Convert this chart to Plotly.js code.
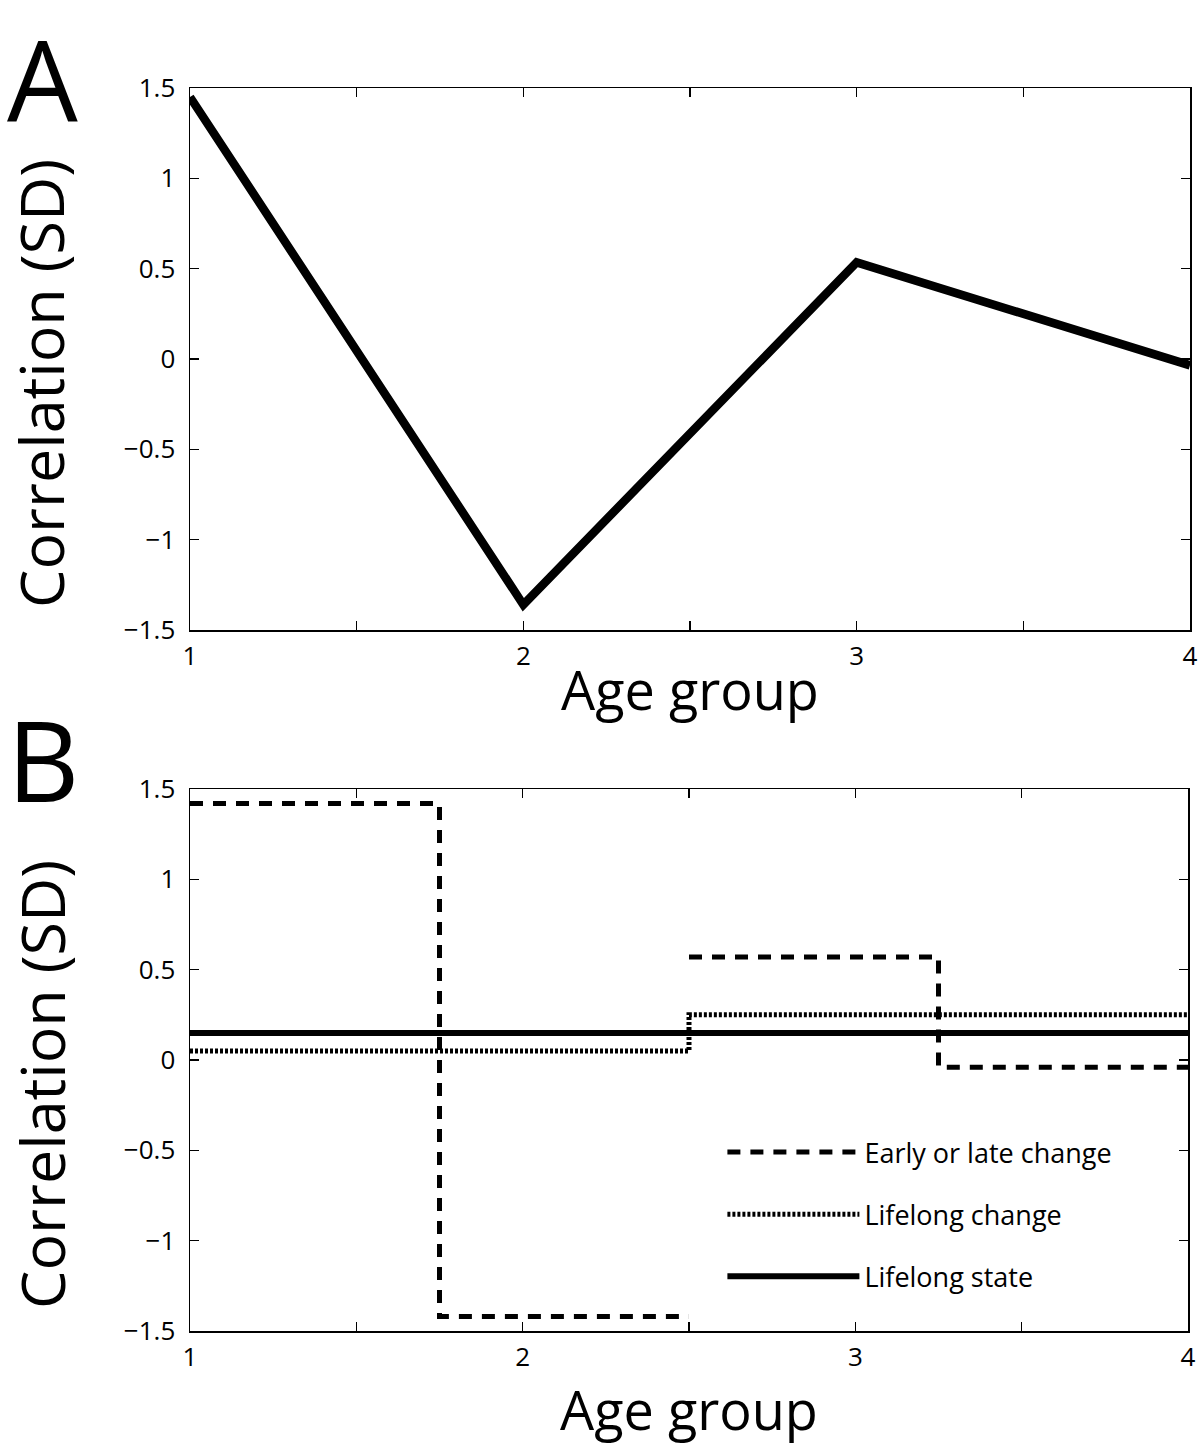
<!DOCTYPE html>
<html>
<head>
<meta charset="utf-8">
<script src="https://cdn.plot.ly/plotly-3.0.1.min.js"></script>
<style>html,body{margin:0;padding:0;background:#fff;}#chart{width:1200px;height:1446px;}</style>
</head>
<body>
<div id="chart"></div>
<script>
// ---- Data ----
const ageGroups = [1, 2, 3, 4];
const correlationA = [1.45, -1.36, 0.535, -0.035];

const earlyLateX = [1, 1.75, 1.75, 2.5, null, 2.5, 3.25, 3.25, 4];
const earlyLateY = [1.42, 1.42, -1.42, -1.42, null, 0.57, 0.57, -0.04, -0.04];

const lifelongChangeX = [1, 2.5, 2.5, 4];
const lifelongChangeY = [0.05, 0.05, 0.25, 0.25];

const lifelongStateX = [1, 4];
const lifelongStateY = [0.15, 0.15];

const xTickVals = [1, 1.5, 2, 2.5, 3, 3.5, 4];
const xTickText = ['1', '', '2', '', '3', '', '4'];
const yTickVals = [-1.5, -1, -0.5, 0, 0.5, 1, 1.5];
const yTickText = ['\u22121.5', '\u22121', '\u22120.5', '0', '0.5', '1', '1.5'];

const seriesNames = ['Early or late change', 'Lifelong change', 'Lifelong state'];
const xTitle = 'Age group';
const yTitle = 'Correlation (SD)';
const panelLabels = ['A', 'B'];

// ---- Styling ----
const FONT = '"Open Sans", "Noto Sans", "DejaVu Sans", sans-serif';

function xAxis(anchor, standoff) {
  return {
    domain: [190/1200, 1190/1200],
    anchor: anchor,
    range: [1, 4],
    tickvals: xTickVals,
    ticktext: xTickText,
    ticks: 'inside',
    ticklen: 9,
    tickwidth: 1.5,
    tickcolor: '#000',
    showline: true,
    linecolor: '#000',
    linewidth: 1.5,
    mirror: 'ticks',
    showgrid: false,
    zeroline: false,
    ticklabelstandoff: 2,
    tickfont: {family: FONT, size: 26, color: '#000'},
    title: {text: xTitle, font: {family: FONT, size: 54, color: '#000'}, standoff: standoff}
  };
}
function yAxis(anchor, domain) {
  return {
    domain: domain,
    anchor: anchor,
    range: [-1.5, 1.5],
    tickvals: yTickVals,
    ticktext: yTickText,
    ticks: 'inside',
    ticklen: 9,
    tickwidth: 1.5,
    tickcolor: '#000',
    showline: true,
    linecolor: '#000',
    linewidth: 1.5,
    mirror: 'ticks',
    showgrid: false,
    zeroline: false,
    ticklabelstandoff: 8,
    tickfont: {family: FONT, size: 26, color: '#000'}
  };
}

const traces = [
  {
    x: ageGroups, y: correlationA, xaxis: 'x', yaxis: 'y',
    mode: 'lines', line: {color: '#000', width: 8.5}, showlegend: false, name: 'Correlation'
  },
  {
    x: earlyLateX, y: earlyLateY, xaxis: 'x2', yaxis: 'y2',
    mode: 'lines', name: seriesNames[0], legendgroup: 'a',
    line: {color: '#000', width: 5, dash: '13px,10px'}
  },
  {
    x: lifelongChangeX, y: lifelongChangeY, xaxis: 'x2', yaxis: 'y2',
    mode: 'lines', name: seriesNames[1], legendgroup: 'b',
    line: {color: '#000', width: 5, dash: '3px,2px'}
  },
  {
    x: lifelongStateX, y: lifelongStateY, xaxis: 'x2', yaxis: 'y2',
    mode: 'lines', name: seriesNames[2], legendgroup: 'c',
    line: {color: '#000', width: 6}
  }
];

function panelLabel(text, topPx) {
  return {text: text, xref: 'paper', yref: 'paper', x: 6/1200, y: 1 - topPx/1446,
    xanchor: 'left', yanchor: 'top', borderpad: 0,
    showarrow: false, font: {family: FONT, size: 112, color: '#000'}};
}
function yTitleAnno(centerYPx) {
  return {text: yTitle, xref: 'paper', yref: 'paper', x: 41/1200, y: 1 - centerYPx/1446,
    xanchor: 'center', yanchor: 'middle', textangle: -90, showarrow: false,
    font: {family: FONT, size: 61, color: '#000'}};
}

const layout = {
  width: 1200, height: 1446,
  margin: {l: 0, r: 0, t: 0, b: 0},
  paper_bgcolor: '#fff',
  plot_bgcolor: '#fff',
  font: {family: FONT, color: '#000'},
  xaxis: xAxis('y', 0),
  yaxis: yAxis('x', [1 - 630/1446, 1 - 88/1446]),
  xaxis2: Object.assign(xAxis('y2', 20), {domain: [190/1200, 1188/1200]}),
  yaxis2: yAxis('x2', [1 - 1331/1446, 1 - 789/1446]),
  showlegend: true,
  legend: {
    x: 0.602, y: 1 - 1128/1446, xanchor: 'left', yanchor: 'top',
    bgcolor: 'rgba(0,0,0,0)', borderwidth: 0,
    font: {family: FONT, size: 27, color: '#000'},
    itemwidth: 132,
    tracegroupgap: 24,
    traceorder: 'grouped'
  },
  annotations: [
    panelLabel(panelLabels[0], 0),
    panelLabel(panelLabels[1], 681),
    yTitleAnno(384),
    yTitleAnno(1085)
  ]
};

Plotly.newPlot('chart', traces, layout, {displayModeBar: false, staticPlot: true});
</script>
</body>
</html>
